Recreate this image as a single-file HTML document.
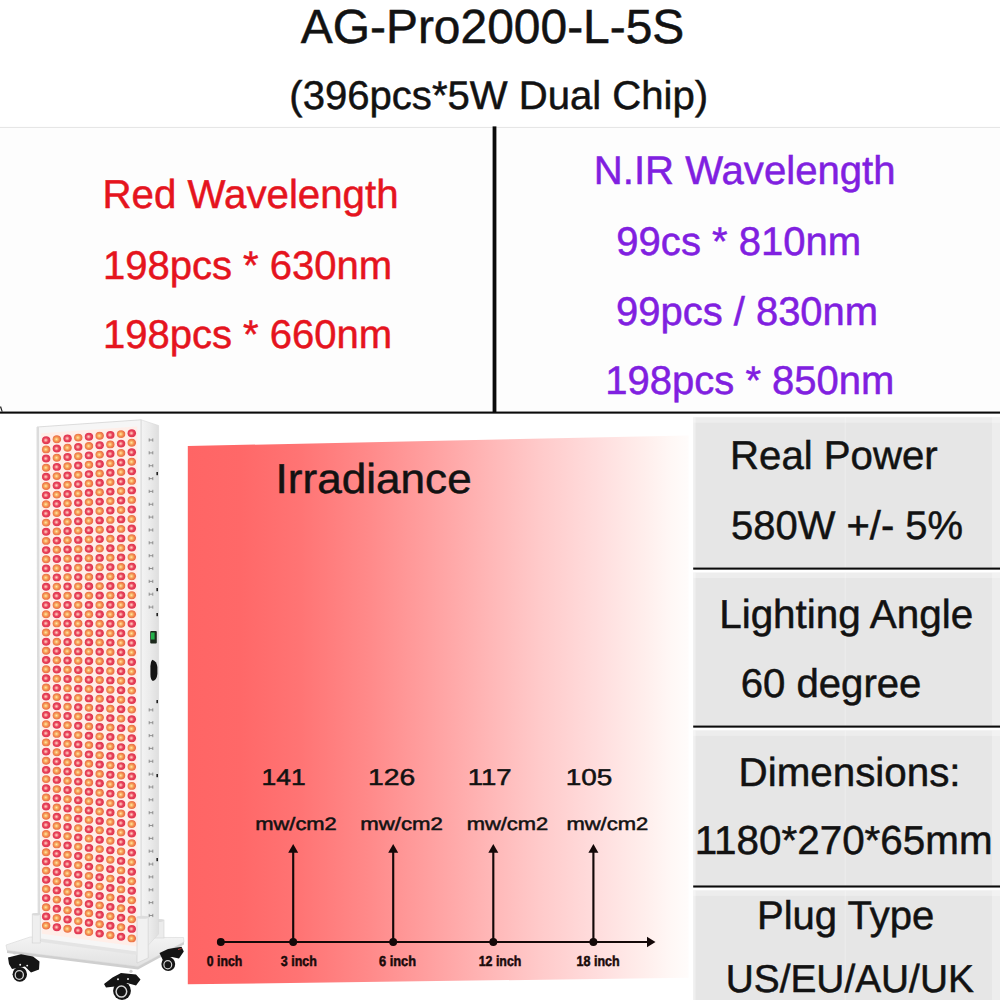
<!DOCTYPE html>
<html lang="en"><head><meta charset="utf-8"><title>AG-Pro2000-L-5S</title>
<style>
html,body{margin:0;padding:0;background:#fff;}
body{width:1000px;height:1000px;position:relative;overflow:hidden;font-family:"Liberation Sans",sans-serif;}
.abs{position:absolute;}
.t{position:absolute;white-space:nowrap;line-height:1;letter-spacing:0;}
.ln{position:absolute;background:#0c0c0c;}
.box{position:absolute;background:#e6e6e6;}
</style></head><body>
<!-- table area tint + borders, irradiance panel, spec boxes -->
<svg class="abs" style="left:0;top:0" width="1000" height="1000" viewBox="0 0 1000 1000">
<defs><linearGradient id="irrg" gradientUnits="userSpaceOnUse" x1="188" y1="0" x2="689" y2="0">
<stop offset="0.0000" stop-color="#ff6565"/><stop offset="0.1038" stop-color="#ff6868"/><stop offset="0.2236" stop-color="#ff7474"/><stop offset="0.3633" stop-color="#ff8a8a"/><stop offset="0.4830" stop-color="#ffa0a0"/><stop offset="0.5928" stop-color="#ffb5b5"/><stop offset="0.7026" stop-color="#ffcaca"/><stop offset="0.8224" stop-color="#ffdede"/><stop offset="0.9122" stop-color="#ffeeec"/><stop offset="0.9661" stop-color="#fff8f6"/><stop offset="1.0000" stop-color="#fffcfb"/>
</linearGradient></defs>
<rect x="0" y="127.8" width="1000" height="284" fill="#fdfdfd"/>
<rect x="0" y="126.9" width="1000" height="1" fill="#e4e4e4"/>
<rect x="492.6" y="126.4" width="3.8" height="286.6" fill="#0b0b0b"/>
<rect x="0" y="411.55" width="1000" height="2.1" fill="#0b0b0b"/>
<path d="M0.5,406.5 L2.2,411.6" stroke="#222" stroke-width="1.2"/>
<polygon points="187.8,446 688.6,435.6 688.6,977.8 187.8,984.3" fill="url(#irrg)"/>
<rect x="693.2" y="417.3" width="306.8" height="150.3" fill="#e6e6e6"/><rect x="693.2" y="417.3" width="306.8" height="5.5" fill="#fff" opacity=".28"/><rect x="693.2" y="417.3" width="2.4" height="150.3" fill="#fff" opacity=".38"/><rect x="992" y="417.3" width="8" height="150.3" fill="#fff" opacity=".30"/><rect x="844.6" y="417.3" width="1.4" height="150.3" fill="#fff" opacity=".22"/><rect x="693.2" y="572.6" width="306.8" height="153.0" fill="#e6e6e6"/><rect x="693.2" y="572.6" width="306.8" height="5.5" fill="#fff" opacity=".28"/><rect x="693.2" y="572.6" width="2.4" height="153.0" fill="#fff" opacity=".38"/><rect x="992" y="572.6" width="8" height="153.0" fill="#fff" opacity=".30"/><rect x="844.6" y="572.6" width="1.4" height="153.0" fill="#fff" opacity=".22"/><rect x="693.2" y="730.4" width="306.8" height="155.2" fill="#e6e6e6"/><rect x="693.2" y="730.4" width="306.8" height="5.5" fill="#fff" opacity=".28"/><rect x="693.2" y="730.4" width="2.4" height="155.2" fill="#fff" opacity=".38"/><rect x="992" y="730.4" width="8" height="155.2" fill="#fff" opacity=".30"/><rect x="844.6" y="730.4" width="1.4" height="155.2" fill="#fff" opacity=".22"/><rect x="693.2" y="890.4" width="306.8" height="109.6" fill="#e6e6e6"/><rect x="693.2" y="890.4" width="306.8" height="5.5" fill="#fff" opacity=".28"/><rect x="693.2" y="890.4" width="2.4" height="109.6" fill="#fff" opacity=".38"/><rect x="992" y="890.4" width="8" height="109.6" fill="#fff" opacity=".30"/><rect x="844.6" y="890.4" width="1.4" height="109.6" fill="#fff" opacity=".22"/><rect x="693.2" y="567.55" width="306.8" height="2.1" fill="#0b0b0b"/><rect x="693.2" y="725.55" width="306.8" height="2.1" fill="#0b0b0b"/><rect x="693.2" y="885.45" width="306.8" height="2.1" fill="#0b0b0b"/>
</svg>
<svg class="abs" style="left:0;top:0" width="1000" height="1000" viewBox="0 0 1000 1000"><defs><radialGradient id="gr" cx="45%" cy="50%" r="58%"><stop offset="0" stop-color="#ffd2c8"/><stop offset=".22" stop-color="#f78a8a"/><stop offset=".5" stop-color="#e4213c"/><stop offset=".85" stop-color="#d8143a"/><stop offset="1" stop-color="#f0607a"/></radialGradient><radialGradient id="go" cx="45%" cy="50%" r="58%"><stop offset="0" stop-color="#ffe9a8"/><stop offset=".25" stop-color="#fbb65a"/><stop offset=".55" stop-color="#f07a30"/><stop offset=".85" stop-color="#e8552c"/><stop offset="1" stop-color="#f59a70"/></radialGradient><linearGradient id="side" x1="0" x2="1"><stop offset="0" stop-color="#f4f4f4"/><stop offset=".5" stop-color="#ebebeb"/><stop offset="1" stop-color="#dedede"/></linearGradient><linearGradient id="plate" x1="0" x2="0" y1="0" y2="1"><stop offset="0" stop-color="#f3f3f3"/><stop offset="1" stop-color="#e2e2e2"/></linearGradient><ellipse id="r" rx="4.25" ry="3.95" fill="url(#gr)"/><ellipse id="o" rx="4.25" ry="3.95" fill="url(#go)"/></defs><polygon points="6,945 30,937 183.5,937.5 184,942 138,966.5 7,950.5" fill="url(#plate)" stroke="#d6d6d6" stroke-width=".6"/><polygon points="7,950.5 138,966.5 184,942 184,944.5 138,969.5 7,953" fill="#cfcfcf"/><rect x="151.5" y="920" width="12.5" height="18" fill="#ececec" stroke="#d2d2d2" stroke-width=".6"/><ellipse cx="157.7" cy="920.5" rx="6.2" ry="1.6" fill="#dcdcdc"/><polygon points="141,419.8 158.6,425.5 158.6,934 141,953" fill="url(#side)" stroke="#d9d9d9" stroke-width=".6"/><path d="M149.2,438.4v3.2M152.8,438.4v3.2M149.2,440.0h3.6" stroke="#7d7d7d" stroke-width=".8" fill="none"/><path d="M149.2,451.2v3.2M152.8,451.2v3.2M149.2,452.9h3.6" stroke="#7d7d7d" stroke-width=".8" fill="none"/><path d="M149.2,464.1v3.2M152.8,464.1v3.2M149.2,465.7h3.6" stroke="#7d7d7d" stroke-width=".8" fill="none"/><path d="M149.2,477.0v3.2M152.8,477.0v3.2M149.2,478.6h3.6" stroke="#7d7d7d" stroke-width=".8" fill="none"/><path d="M149.2,489.8v3.2M152.8,489.8v3.2M149.2,491.4h3.6" stroke="#7d7d7d" stroke-width=".8" fill="none"/><path d="M149.2,502.7v3.2M152.8,502.7v3.2M149.2,504.3h3.6" stroke="#7d7d7d" stroke-width=".8" fill="none"/><path d="M149.2,515.5v3.2M152.8,515.5v3.2M149.2,517.1h3.6" stroke="#7d7d7d" stroke-width=".8" fill="none"/><path d="M149.2,528.4v3.2M152.8,528.4v3.2M149.2,530.0h3.6" stroke="#7d7d7d" stroke-width=".8" fill="none"/><path d="M149.2,541.2v3.2M152.8,541.2v3.2M149.2,542.8h3.6" stroke="#7d7d7d" stroke-width=".8" fill="none"/><path d="M149.2,554.1v3.2M152.8,554.1v3.2M149.2,555.7h3.6" stroke="#7d7d7d" stroke-width=".8" fill="none"/><path d="M149.2,566.9v3.2M152.8,566.9v3.2M149.2,568.5h3.6" stroke="#7d7d7d" stroke-width=".8" fill="none"/><path d="M149.2,579.8v3.2M152.8,579.8v3.2M149.2,581.4h3.6" stroke="#7d7d7d" stroke-width=".8" fill="none"/><path d="M149.2,592.6v3.2M152.8,592.6v3.2M149.2,594.2h3.6" stroke="#7d7d7d" stroke-width=".8" fill="none"/><path d="M149.2,605.5v3.2M152.8,605.5v3.2M149.2,607.1h3.6" stroke="#7d7d7d" stroke-width=".8" fill="none"/><path d="M149.2,708.3v3.2M152.8,708.3v3.2M149.2,709.9h3.6" stroke="#7d7d7d" stroke-width=".8" fill="none"/><path d="M149.2,721.1v3.2M152.8,721.1v3.2M149.2,722.7h3.6" stroke="#7d7d7d" stroke-width=".8" fill="none"/><path d="M149.2,734.0v3.2M152.8,734.0v3.2M149.2,735.6h3.6" stroke="#7d7d7d" stroke-width=".8" fill="none"/><path d="M149.2,746.8v3.2M152.8,746.8v3.2M149.2,748.4h3.6" stroke="#7d7d7d" stroke-width=".8" fill="none"/><path d="M149.2,759.7v3.2M152.8,759.7v3.2M149.2,761.3h3.6" stroke="#7d7d7d" stroke-width=".8" fill="none"/><path d="M149.2,772.5v3.2M152.8,772.5v3.2M149.2,774.1h3.6" stroke="#7d7d7d" stroke-width=".8" fill="none"/><path d="M149.2,785.4v3.2M152.8,785.4v3.2M149.2,787.0h3.6" stroke="#7d7d7d" stroke-width=".8" fill="none"/><path d="M149.2,798.2v3.2M152.8,798.2v3.2M149.2,799.8h3.6" stroke="#7d7d7d" stroke-width=".8" fill="none"/><path d="M149.2,811.1v3.2M152.8,811.1v3.2M149.2,812.7h3.6" stroke="#7d7d7d" stroke-width=".8" fill="none"/><path d="M149.2,823.9v3.2M152.8,823.9v3.2M149.2,825.5h3.6" stroke="#7d7d7d" stroke-width=".8" fill="none"/><path d="M149.2,836.8v3.2M152.8,836.8v3.2M149.2,838.4h3.6" stroke="#7d7d7d" stroke-width=".8" fill="none"/><path d="M149.2,849.6v3.2M152.8,849.6v3.2M149.2,851.2h3.6" stroke="#7d7d7d" stroke-width=".8" fill="none"/><path d="M149.2,862.5v3.2M152.8,862.5v3.2M149.2,864.1h3.6" stroke="#7d7d7d" stroke-width=".8" fill="none"/><path d="M149.2,875.3v3.2M152.8,875.3v3.2M149.2,876.9h3.6" stroke="#7d7d7d" stroke-width=".8" fill="none"/><path d="M149.2,888.2v3.2M152.8,888.2v3.2M149.2,889.8h3.6" stroke="#7d7d7d" stroke-width=".8" fill="none"/><path d="M149.2,901.0v3.2M152.8,901.0v3.2M149.2,902.6h3.6" stroke="#7d7d7d" stroke-width=".8" fill="none"/><path d="M149.2,913.9v3.2M152.8,913.9v3.2M149.2,915.5h3.6" stroke="#7d7d7d" stroke-width=".8" fill="none"/><rect x="156.4" y="472" width="1.6" height="3.2" fill="#222"/><rect x="156.4" y="588" width="1.6" height="3.2" fill="#222"/><rect x="156.4" y="613" width="1.6" height="3.2" fill="#222"/><rect x="156.4" y="700" width="1.6" height="3.2" fill="#222"/><rect x="156.4" y="774" width="1.6" height="3.2" fill="#222"/><rect x="156.4" y="858" width="1.6" height="3.2" fill="#222"/><rect x="150.2" y="631" width="6.6" height="12.5" rx="1" fill="#1d2a1d"/><rect x="151" y="632.5" width="3.6" height="7" fill="#22b24a"/><path d="M152.2,659.8 Q156.8,661 157.4,667 L157.4,674 Q156.8,680 152.8,681 Q150.4,679.5 150.4,674 L150.4,666 Q150.6,661.5 152.2,659.8 Z" fill="#151515"/><polygon points="37,427 141,419.8 141,953 38.2,940" fill="#f6f6f6" stroke="#d4d4d4" stroke-width=".8"/><polygon points="41.2,433.3 137.2,426.4 137.2,946.5 41.8,933.8" fill="#ffeee8"/><g opacity=".84"><use href="#r" x="46.2" y="440.2"/><use href="#o" x="56.9" y="439.3"/><use href="#r" x="67.6" y="438.4"/><use href="#o" x="78.3" y="437.6"/><use href="#r" x="89.0" y="436.7"/><use href="#o" x="99.7" y="435.8"/><use href="#r" x="110.4" y="434.9"/><use href="#o" x="121.1" y="434.1"/><use href="#r" x="131.8" y="433.2"/><use href="#o" x="46.2" y="449.4"/><use href="#r" x="56.9" y="448.5"/><use href="#o" x="67.6" y="447.7"/><use href="#r" x="78.3" y="446.9"/><use href="#o" x="89.0" y="446.0"/><use href="#r" x="99.7" y="445.2"/><use href="#o" x="110.4" y="444.4"/><use href="#r" x="121.1" y="443.6"/><use href="#o" x="131.8" y="442.7"/><use href="#r" x="46.2" y="458.5"/><use href="#o" x="56.9" y="457.7"/><use href="#r" x="67.6" y="457.0"/><use href="#o" x="78.3" y="456.2"/><use href="#r" x="89.0" y="455.4"/><use href="#o" x="99.7" y="454.6"/><use href="#r" x="110.4" y="453.8"/><use href="#o" x="121.1" y="453.0"/><use href="#r" x="131.8" y="452.3"/><use href="#o" x="46.2" y="467.7"/><use href="#r" x="56.9" y="466.9"/><use href="#o" x="67.6" y="466.2"/><use href="#r" x="78.3" y="465.5"/><use href="#o" x="89.0" y="464.7"/><use href="#r" x="99.7" y="464.0"/><use href="#o" x="110.4" y="463.3"/><use href="#r" x="121.1" y="462.5"/><use href="#o" x="131.8" y="461.8"/><use href="#r" x="46.2" y="476.8"/><use href="#o" x="56.9" y="476.1"/><use href="#r" x="67.6" y="475.5"/><use href="#o" x="78.3" y="474.8"/><use href="#r" x="89.0" y="474.1"/><use href="#o" x="99.7" y="473.4"/><use href="#r" x="110.4" y="472.7"/><use href="#o" x="121.1" y="472.0"/><use href="#r" x="131.8" y="471.3"/><use href="#o" x="46.2" y="486.0"/><use href="#r" x="56.9" y="485.4"/><use href="#o" x="67.6" y="484.7"/><use href="#r" x="78.3" y="484.1"/><use href="#o" x="89.0" y="483.4"/><use href="#r" x="99.7" y="482.8"/><use href="#o" x="110.4" y="482.1"/><use href="#r" x="121.1" y="481.5"/><use href="#o" x="131.8" y="480.9"/><use href="#r" x="46.2" y="495.2"/><use href="#o" x="56.9" y="494.6"/><use href="#r" x="67.6" y="494.0"/><use href="#o" x="78.3" y="493.4"/><use href="#r" x="89.0" y="492.8"/><use href="#o" x="99.7" y="492.2"/><use href="#r" x="110.4" y="491.6"/><use href="#o" x="121.1" y="491.0"/><use href="#r" x="131.8" y="490.4"/><use href="#o" x="46.2" y="504.3"/><use href="#r" x="56.9" y="503.8"/><use href="#o" x="67.6" y="503.2"/><use href="#r" x="78.3" y="502.7"/><use href="#o" x="89.0" y="502.1"/><use href="#r" x="99.7" y="501.6"/><use href="#o" x="110.4" y="501.0"/><use href="#r" x="121.1" y="500.5"/><use href="#o" x="131.8" y="499.9"/><use href="#r" x="46.2" y="513.5"/><use href="#o" x="56.9" y="513.0"/><use href="#r" x="67.6" y="512.5"/><use href="#o" x="78.3" y="512.0"/><use href="#r" x="89.0" y="511.5"/><use href="#o" x="99.7" y="511.0"/><use href="#r" x="110.4" y="510.5"/><use href="#o" x="121.1" y="510.0"/><use href="#r" x="131.8" y="509.5"/><use href="#o" x="46.2" y="522.6"/><use href="#r" x="56.9" y="522.2"/><use href="#o" x="67.6" y="521.7"/><use href="#r" x="78.3" y="521.3"/><use href="#o" x="89.0" y="520.8"/><use href="#r" x="99.7" y="520.4"/><use href="#o" x="110.4" y="519.9"/><use href="#r" x="121.1" y="519.4"/><use href="#o" x="131.8" y="519.0"/><use href="#r" x="46.2" y="531.8"/><use href="#o" x="56.9" y="531.4"/><use href="#r" x="67.6" y="531.0"/><use href="#o" x="78.3" y="530.6"/><use href="#r" x="89.0" y="530.2"/><use href="#o" x="99.7" y="529.7"/><use href="#r" x="110.4" y="529.3"/><use href="#o" x="121.1" y="528.9"/><use href="#r" x="131.8" y="528.5"/><use href="#o" x="46.2" y="540.9"/><use href="#r" x="56.9" y="540.6"/><use href="#o" x="67.6" y="540.2"/><use href="#r" x="78.3" y="539.9"/><use href="#o" x="89.0" y="539.5"/><use href="#r" x="99.7" y="539.1"/><use href="#o" x="110.4" y="538.8"/><use href="#r" x="121.1" y="538.4"/><use href="#o" x="131.8" y="538.1"/><use href="#r" x="46.2" y="550.1"/><use href="#o" x="56.9" y="549.8"/><use href="#r" x="67.6" y="549.5"/><use href="#o" x="78.3" y="549.2"/><use href="#r" x="89.0" y="548.8"/><use href="#o" x="99.7" y="548.5"/><use href="#r" x="110.4" y="548.2"/><use href="#o" x="121.1" y="547.9"/><use href="#r" x="131.8" y="547.6"/><use href="#o" x="46.2" y="559.3"/><use href="#r" x="56.9" y="559.0"/><use href="#o" x="67.6" y="558.7"/><use href="#r" x="78.3" y="558.5"/><use href="#o" x="89.0" y="558.2"/><use href="#r" x="99.7" y="557.9"/><use href="#o" x="110.4" y="557.7"/><use href="#r" x="121.1" y="557.4"/><use href="#o" x="131.8" y="557.1"/><use href="#r" x="46.2" y="568.4"/><use href="#o" x="56.9" y="568.2"/><use href="#r" x="67.6" y="568.0"/><use href="#o" x="78.3" y="567.8"/><use href="#r" x="89.0" y="567.5"/><use href="#o" x="99.7" y="567.3"/><use href="#r" x="110.4" y="567.1"/><use href="#o" x="121.1" y="566.9"/><use href="#r" x="131.8" y="566.6"/><use href="#o" x="46.2" y="577.6"/><use href="#r" x="56.9" y="577.4"/><use href="#o" x="67.6" y="577.2"/><use href="#r" x="78.3" y="577.1"/><use href="#o" x="89.0" y="576.9"/><use href="#r" x="99.7" y="576.7"/><use href="#o" x="110.4" y="576.5"/><use href="#r" x="121.1" y="576.4"/><use href="#o" x="131.8" y="576.2"/><use href="#r" x="46.2" y="586.7"/><use href="#o" x="56.9" y="586.6"/><use href="#r" x="67.6" y="586.5"/><use href="#o" x="78.3" y="586.4"/><use href="#r" x="89.0" y="586.2"/><use href="#o" x="99.7" y="586.1"/><use href="#r" x="110.4" y="586.0"/><use href="#o" x="121.1" y="585.8"/><use href="#r" x="131.8" y="585.7"/><use href="#o" x="46.2" y="595.9"/><use href="#r" x="56.9" y="595.8"/><use href="#o" x="67.6" y="595.7"/><use href="#r" x="78.3" y="595.7"/><use href="#o" x="89.0" y="595.6"/><use href="#r" x="99.7" y="595.5"/><use href="#o" x="110.4" y="595.4"/><use href="#r" x="121.1" y="595.3"/><use href="#o" x="131.8" y="595.2"/><use href="#r" x="46.2" y="605.1"/><use href="#o" x="56.9" y="605.0"/><use href="#r" x="67.6" y="605.0"/><use href="#o" x="78.3" y="604.9"/><use href="#r" x="89.0" y="604.9"/><use href="#o" x="99.7" y="604.9"/><use href="#r" x="110.4" y="604.8"/><use href="#o" x="121.1" y="604.8"/><use href="#r" x="131.8" y="604.8"/><use href="#o" x="46.2" y="614.2"/><use href="#r" x="56.9" y="614.2"/><use href="#o" x="67.6" y="614.2"/><use href="#r" x="78.3" y="614.2"/><use href="#o" x="89.0" y="614.3"/><use href="#r" x="99.7" y="614.3"/><use href="#o" x="110.4" y="614.3"/><use href="#r" x="121.1" y="614.3"/><use href="#o" x="131.8" y="614.3"/><use href="#r" x="46.2" y="623.4"/><use href="#o" x="56.9" y="623.4"/><use href="#r" x="67.6" y="623.5"/><use href="#o" x="78.3" y="623.5"/><use href="#r" x="89.0" y="623.6"/><use href="#o" x="99.7" y="623.7"/><use href="#r" x="110.4" y="623.7"/><use href="#o" x="121.1" y="623.8"/><use href="#r" x="131.8" y="623.8"/><use href="#o" x="46.2" y="632.5"/><use href="#r" x="56.9" y="632.6"/><use href="#o" x="67.6" y="632.7"/><use href="#r" x="78.3" y="632.8"/><use href="#o" x="89.0" y="633.0"/><use href="#r" x="99.7" y="633.1"/><use href="#o" x="110.4" y="633.2"/><use href="#r" x="121.1" y="633.3"/><use href="#o" x="131.8" y="633.4"/><use href="#r" x="46.2" y="641.7"/><use href="#o" x="56.9" y="641.8"/><use href="#r" x="67.6" y="642.0"/><use href="#o" x="78.3" y="642.1"/><use href="#r" x="89.0" y="642.3"/><use href="#o" x="99.7" y="642.4"/><use href="#r" x="110.4" y="642.6"/><use href="#o" x="121.1" y="642.8"/><use href="#r" x="131.8" y="642.9"/><use href="#o" x="46.2" y="650.8"/><use href="#r" x="56.9" y="651.0"/><use href="#o" x="67.6" y="651.2"/><use href="#r" x="78.3" y="651.4"/><use href="#o" x="89.0" y="651.6"/><use href="#r" x="99.7" y="651.8"/><use href="#o" x="110.4" y="652.0"/><use href="#r" x="121.1" y="652.2"/><use href="#o" x="131.8" y="652.4"/><use href="#r" x="46.2" y="660.0"/><use href="#o" x="56.9" y="660.2"/><use href="#r" x="67.6" y="660.5"/><use href="#o" x="78.3" y="660.7"/><use href="#r" x="89.0" y="661.0"/><use href="#o" x="99.7" y="661.2"/><use href="#r" x="110.4" y="661.5"/><use href="#o" x="121.1" y="661.7"/><use href="#r" x="131.8" y="662.0"/><use href="#o" x="46.2" y="669.2"/><use href="#r" x="56.9" y="669.5"/><use href="#o" x="67.6" y="669.7"/><use href="#r" x="78.3" y="670.0"/><use href="#o" x="89.0" y="670.3"/><use href="#r" x="99.7" y="670.6"/><use href="#o" x="110.4" y="670.9"/><use href="#r" x="121.1" y="671.2"/><use href="#o" x="131.8" y="671.5"/><use href="#r" x="46.2" y="678.3"/><use href="#o" x="56.9" y="678.7"/><use href="#r" x="67.6" y="679.0"/><use href="#o" x="78.3" y="679.3"/><use href="#r" x="89.0" y="679.7"/><use href="#o" x="99.7" y="680.0"/><use href="#r" x="110.4" y="680.4"/><use href="#o" x="121.1" y="680.7"/><use href="#r" x="131.8" y="681.0"/><use href="#o" x="46.2" y="687.5"/><use href="#r" x="56.9" y="687.9"/><use href="#o" x="67.6" y="688.3"/><use href="#r" x="78.3" y="688.6"/><use href="#o" x="89.0" y="689.0"/><use href="#r" x="99.7" y="689.4"/><use href="#o" x="110.4" y="689.8"/><use href="#r" x="121.1" y="690.2"/><use href="#o" x="131.8" y="690.6"/><use href="#r" x="46.2" y="696.6"/><use href="#o" x="56.9" y="697.1"/><use href="#r" x="67.6" y="697.5"/><use href="#o" x="78.3" y="697.9"/><use href="#r" x="89.0" y="698.4"/><use href="#o" x="99.7" y="698.8"/><use href="#r" x="110.4" y="699.2"/><use href="#o" x="121.1" y="699.7"/><use href="#r" x="131.8" y="700.1"/><use href="#o" x="46.2" y="705.8"/><use href="#r" x="56.9" y="706.3"/><use href="#o" x="67.6" y="706.8"/><use href="#r" x="78.3" y="707.2"/><use href="#o" x="89.0" y="707.7"/><use href="#r" x="99.7" y="708.2"/><use href="#o" x="110.4" y="708.7"/><use href="#r" x="121.1" y="709.2"/><use href="#o" x="131.8" y="709.6"/><use href="#r" x="46.2" y="715.0"/><use href="#o" x="56.9" y="715.5"/><use href="#r" x="67.6" y="716.0"/><use href="#o" x="78.3" y="716.5"/><use href="#r" x="89.0" y="717.1"/><use href="#o" x="99.7" y="717.6"/><use href="#r" x="110.4" y="718.1"/><use href="#o" x="121.1" y="718.6"/><use href="#r" x="131.8" y="719.2"/><use href="#o" x="46.2" y="724.1"/><use href="#r" x="56.9" y="724.7"/><use href="#o" x="67.6" y="725.3"/><use href="#r" x="78.3" y="725.8"/><use href="#o" x="89.0" y="726.4"/><use href="#r" x="99.7" y="727.0"/><use href="#o" x="110.4" y="727.5"/><use href="#r" x="121.1" y="728.1"/><use href="#o" x="131.8" y="728.7"/><use href="#r" x="46.2" y="733.3"/><use href="#o" x="56.9" y="733.9"/><use href="#r" x="67.6" y="734.5"/><use href="#o" x="78.3" y="735.1"/><use href="#r" x="89.0" y="735.7"/><use href="#o" x="99.7" y="736.4"/><use href="#r" x="110.4" y="737.0"/><use href="#o" x="121.1" y="737.6"/><use href="#r" x="131.8" y="738.2"/><use href="#o" x="46.2" y="742.4"/><use href="#r" x="56.9" y="743.1"/><use href="#o" x="67.6" y="743.8"/><use href="#r" x="78.3" y="744.4"/><use href="#o" x="89.0" y="745.1"/><use href="#r" x="99.7" y="745.8"/><use href="#o" x="110.4" y="746.4"/><use href="#r" x="121.1" y="747.1"/><use href="#o" x="131.8" y="747.8"/><use href="#r" x="46.2" y="751.6"/><use href="#o" x="56.9" y="752.3"/><use href="#r" x="67.6" y="753.0"/><use href="#o" x="78.3" y="753.7"/><use href="#r" x="89.0" y="754.4"/><use href="#o" x="99.7" y="755.2"/><use href="#r" x="110.4" y="755.9"/><use href="#o" x="121.1" y="756.6"/><use href="#r" x="131.8" y="757.3"/><use href="#o" x="46.2" y="760.7"/><use href="#r" x="56.9" y="761.5"/><use href="#o" x="67.6" y="762.3"/><use href="#r" x="78.3" y="763.0"/><use href="#o" x="89.0" y="763.8"/><use href="#r" x="99.7" y="764.5"/><use href="#o" x="110.4" y="765.3"/><use href="#r" x="121.1" y="766.1"/><use href="#o" x="131.8" y="766.8"/><use href="#r" x="46.2" y="769.9"/><use href="#o" x="56.9" y="770.7"/><use href="#r" x="67.6" y="771.5"/><use href="#o" x="78.3" y="772.3"/><use href="#r" x="89.0" y="773.1"/><use href="#o" x="99.7" y="773.9"/><use href="#r" x="110.4" y="774.7"/><use href="#o" x="121.1" y="775.5"/><use href="#r" x="131.8" y="776.4"/><use href="#o" x="46.2" y="779.1"/><use href="#r" x="56.9" y="779.9"/><use href="#o" x="67.6" y="780.8"/><use href="#r" x="78.3" y="781.6"/><use href="#o" x="89.0" y="782.5"/><use href="#r" x="99.7" y="783.3"/><use href="#o" x="110.4" y="784.2"/><use href="#r" x="121.1" y="785.0"/><use href="#o" x="131.8" y="785.9"/><use href="#r" x="46.2" y="788.2"/><use href="#o" x="56.9" y="789.1"/><use href="#r" x="67.6" y="790.0"/><use href="#o" x="78.3" y="790.9"/><use href="#r" x="89.0" y="791.8"/><use href="#o" x="99.7" y="792.7"/><use href="#r" x="110.4" y="793.6"/><use href="#o" x="121.1" y="794.5"/><use href="#r" x="131.8" y="795.4"/><use href="#o" x="46.2" y="797.4"/><use href="#r" x="56.9" y="798.3"/><use href="#o" x="67.6" y="799.3"/><use href="#r" x="78.3" y="800.2"/><use href="#o" x="89.0" y="801.2"/><use href="#r" x="99.7" y="802.1"/><use href="#o" x="110.4" y="803.1"/><use href="#r" x="121.1" y="804.0"/><use href="#o" x="131.8" y="805.0"/><use href="#r" x="46.2" y="806.5"/><use href="#o" x="56.9" y="807.5"/><use href="#r" x="67.6" y="808.5"/><use href="#o" x="78.3" y="809.5"/><use href="#r" x="89.0" y="810.5"/><use href="#o" x="99.7" y="811.5"/><use href="#r" x="110.4" y="812.5"/><use href="#o" x="121.1" y="813.5"/><use href="#r" x="131.8" y="814.5"/><use href="#o" x="46.2" y="815.7"/><use href="#r" x="56.9" y="816.7"/><use href="#o" x="67.6" y="817.8"/><use href="#r" x="78.3" y="818.8"/><use href="#o" x="89.0" y="819.9"/><use href="#r" x="99.7" y="820.9"/><use href="#o" x="110.4" y="821.9"/><use href="#r" x="121.1" y="823.0"/><use href="#o" x="131.8" y="824.0"/><use href="#r" x="46.2" y="824.9"/><use href="#o" x="56.9" y="825.9"/><use href="#r" x="67.6" y="827.0"/><use href="#o" x="78.3" y="828.1"/><use href="#r" x="89.0" y="829.2"/><use href="#o" x="99.7" y="830.3"/><use href="#r" x="110.4" y="831.4"/><use href="#o" x="121.1" y="832.5"/><use href="#r" x="131.8" y="833.5"/><use href="#o" x="46.2" y="834.0"/><use href="#r" x="56.9" y="835.1"/><use href="#o" x="67.6" y="836.3"/><use href="#r" x="78.3" y="837.4"/><use href="#o" x="89.0" y="838.5"/><use href="#r" x="99.7" y="839.7"/><use href="#o" x="110.4" y="840.8"/><use href="#r" x="121.1" y="841.9"/><use href="#o" x="131.8" y="843.1"/><use href="#r" x="46.2" y="843.2"/><use href="#o" x="56.9" y="844.4"/><use href="#r" x="67.6" y="845.5"/><use href="#o" x="78.3" y="846.7"/><use href="#r" x="89.0" y="847.9"/><use href="#o" x="99.7" y="849.1"/><use href="#r" x="110.4" y="850.3"/><use href="#o" x="121.1" y="851.4"/><use href="#r" x="131.8" y="852.6"/><use href="#o" x="46.2" y="852.3"/><use href="#r" x="56.9" y="853.6"/><use href="#o" x="67.6" y="854.8"/><use href="#r" x="78.3" y="856.0"/><use href="#o" x="89.0" y="857.2"/><use href="#r" x="99.7" y="858.5"/><use href="#o" x="110.4" y="859.7"/><use href="#r" x="121.1" y="860.9"/><use href="#o" x="131.8" y="862.1"/><use href="#r" x="46.2" y="861.5"/><use href="#o" x="56.9" y="862.8"/><use href="#r" x="67.6" y="864.0"/><use href="#o" x="78.3" y="865.3"/><use href="#r" x="89.0" y="866.6"/><use href="#o" x="99.7" y="867.9"/><use href="#r" x="110.4" y="869.1"/><use href="#o" x="121.1" y="870.4"/><use href="#r" x="131.8" y="871.7"/><use href="#o" x="46.2" y="870.6"/><use href="#r" x="56.9" y="872.0"/><use href="#o" x="67.6" y="873.3"/><use href="#r" x="78.3" y="874.6"/><use href="#o" x="89.0" y="875.9"/><use href="#r" x="99.7" y="877.2"/><use href="#o" x="110.4" y="878.6"/><use href="#r" x="121.1" y="879.9"/><use href="#o" x="131.8" y="881.2"/><use href="#r" x="46.2" y="879.8"/><use href="#o" x="56.9" y="881.2"/><use href="#r" x="67.6" y="882.5"/><use href="#o" x="78.3" y="883.9"/><use href="#r" x="89.0" y="885.3"/><use href="#o" x="99.7" y="886.6"/><use href="#r" x="110.4" y="888.0"/><use href="#o" x="121.1" y="889.4"/><use href="#r" x="131.8" y="890.7"/><use href="#o" x="46.2" y="889.0"/><use href="#r" x="56.9" y="890.4"/><use href="#o" x="67.6" y="891.8"/><use href="#r" x="78.3" y="893.2"/><use href="#o" x="89.0" y="894.6"/><use href="#r" x="99.7" y="896.0"/><use href="#o" x="110.4" y="897.4"/><use href="#r" x="121.1" y="898.9"/><use href="#o" x="131.8" y="900.3"/><use href="#r" x="46.2" y="898.1"/><use href="#o" x="56.9" y="899.6"/><use href="#r" x="67.6" y="901.0"/><use href="#o" x="78.3" y="902.5"/><use href="#r" x="89.0" y="904.0"/><use href="#o" x="99.7" y="905.4"/><use href="#r" x="110.4" y="906.9"/><use href="#o" x="121.1" y="908.3"/><use href="#r" x="131.8" y="909.8"/><use href="#o" x="46.2" y="907.3"/><use href="#r" x="56.9" y="908.8"/><use href="#o" x="67.6" y="910.3"/><use href="#r" x="78.3" y="911.8"/><use href="#o" x="89.0" y="913.3"/><use href="#r" x="99.7" y="914.8"/><use href="#o" x="110.4" y="916.3"/><use href="#r" x="121.1" y="917.8"/><use href="#o" x="131.8" y="919.3"/><use href="#r" x="46.2" y="916.4"/><use href="#o" x="56.9" y="918.0"/><use href="#r" x="67.6" y="919.5"/><use href="#o" x="78.3" y="921.1"/><use href="#r" x="89.0" y="922.7"/><use href="#o" x="99.7" y="924.2"/><use href="#r" x="110.4" y="925.8"/><use href="#o" x="121.1" y="927.3"/><use href="#r" x="131.8" y="928.9"/><use href="#o" x="46.2" y="925.6"/><use href="#r" x="56.9" y="927.2"/><use href="#o" x="67.6" y="928.8"/><use href="#r" x="78.3" y="930.4"/><use href="#o" x="89.0" y="932.0"/><use href="#r" x="99.7" y="933.6"/><use href="#o" x="110.4" y="935.2"/><use href="#r" x="121.1" y="936.8"/><use href="#o" x="131.8" y="938.4"/></g><polygon points="37,427 39,426.9 40.2,940.2 38.2,940" fill="#dcdcdc"/><rect x="32.2" y="914" width="8" height="29" fill="#efefef" stroke="#d0d0d0" stroke-width=".6"/><ellipse cx="36.2" cy="914.3" rx="4" ry="1.3" fill="#dadada"/><polygon points="137,917 148.2,917 148.2,958 137,963" fill="#f1f1f1" stroke="#cfcfcf" stroke-width=".6"/><ellipse cx="142.6" cy="917.2" rx="5.6" ry="1.5" fill="#dcdcdc"/><polygon points="41,938.5 137,951.5 137,955 41,942" fill="#e4e4e4"/><circle cx="14.5" cy="953" r="1.5" fill="#cfcfcf"/><polygon points="8,957.5 21,954.3 33,956.5 39.5,961.5 39,969.5 31,972.5 25,966.5 12,969 9,964" fill="#151515"/><ellipse cx="19.8" cy="974.3" rx="7.2" ry="7.4" fill="#151515"/><ellipse cx="19.3" cy="975" rx="4.1" ry="4.3" fill="none" stroke="#d4d4d4" stroke-width="1.3"/><circle cx="20.2" cy="964.8" r=".95" fill="#f2f2f2"/><circle cx="27.2" cy="965.6" r=".95" fill="#f2f2f2"/><circle cx="131" cy="971.3" r="1.6" fill="#cfcfcf"/><polygon points="104,984 112.5,977.5 121,973 136,974.5 140.5,979.5 136,985.5 127,983 115,986.5 106,987.5" fill="#151515"/><ellipse cx="122" cy="990.8" rx="8.9" ry="9.1" fill="#151515"/><ellipse cx="121.4" cy="991.6" rx="5.3" ry="5.5" fill="none" stroke="#d4d4d4" stroke-width="1.5"/><circle cx="118" cy="979.3" r=".95" fill="#f2f2f2"/><circle cx="128" cy="979" r=".95" fill="#f2f2f2"/><polygon points="159.5,953 168,949 181.5,946.8 183.8,951.5 179,958.5 172,957 163,960.5" fill="#151515"/><ellipse cx="168.3" cy="964" rx="6.9" ry="7.1" fill="#151515"/><ellipse cx="167.8" cy="964.7" rx="3.9" ry="4.1" fill="none" stroke="#d4d4d4" stroke-width="1.2"/><path d="M178,949.5 l3.5,-1" stroke="#c04040" stroke-width="1"/></svg>
<svg class="abs" style="left:0;top:0" width="1000" height="1000" viewBox="0 0 1000 1000"><line x1="220.8" y1="942" x2="648" y2="942" stroke="#140808" stroke-width="2.15"/><polygon points="647,936.8 647,947.2 655.5,942" fill="#140808"/><line x1="293.2" y1="942" x2="293.2" y2="850" stroke="#140808" stroke-width="2.15"/><polygon points="288.2,852.8 298.2,852.8 293.2,844" fill="#140808"/><line x1="393.2" y1="942" x2="393.2" y2="850" stroke="#140808" stroke-width="2.15"/><polygon points="388.2,852.8 398.2,852.8 393.2,844" fill="#140808"/><line x1="493.3" y1="942" x2="493.3" y2="850" stroke="#140808" stroke-width="2.15"/><polygon points="488.3,852.8 498.3,852.8 493.3,844" fill="#140808"/><line x1="593.4" y1="942" x2="593.4" y2="850" stroke="#140808" stroke-width="2.15"/><polygon points="588.4,852.8 598.4,852.8 593.4,844" fill="#140808"/><circle cx="220.8" cy="942" r="3.95" fill="#140808"/><circle cx="293.2" cy="942" r="3.95" fill="#140808"/><circle cx="393.2" cy="942" r="3.95" fill="#140808"/><circle cx="493.3" cy="942" r="3.95" fill="#140808"/><circle cx="593.4" cy="942" r="3.95" fill="#140808"/></svg>
<svg class="abs" style="left:0;top:0" width="1000" height="1000" viewBox="0 0 1000 1000" font-family="Liberation Sans, sans-serif" text-rendering="geometricPrecision">
<text x="300.76" y="42.90" font-size="47.93" fill="#121212" stroke="#121212" stroke-width="0.5">AG-Pro2000-L-5S</text>
<text x="289.30" y="109.20" font-size="40.10" fill="#121212" stroke="#121212" stroke-width="0.5">(396pcs*5W Dual Chip)</text>
<text x="102.55" y="207.80" font-size="40.24" fill="#e5141e" stroke="#e5141e" stroke-width="0.5">Red Wavelength</text>
<text x="102.95" y="279.00" font-size="40.03" fill="#e5141e" stroke="#e5141e" stroke-width="0.5">198pcs * 630nm</text>
<text x="102.95" y="348.00" font-size="40.03" fill="#e5141e" stroke="#e5141e" stroke-width="0.5">198pcs * 660nm</text>
<text x="593.77" y="183.60" font-size="40.13" fill="#8020e0" stroke="#8020e0" stroke-width="0.5">N.IR Wavelength</text>
<text x="616.32" y="254.50" font-size="40.06" fill="#8020e0" stroke="#8020e0" stroke-width="0.5">99cs * 810nm</text>
<text x="616.02" y="325.00" font-size="39.96" fill="#8020e0" stroke="#8020e0" stroke-width="0.5">99pcs / 830nm</text>
<text x="605.35" y="393.50" font-size="40.00" fill="#8020e0" stroke="#8020e0" stroke-width="0.5">198pcs * 850nm</text>
<text x="730.05" y="469.20" font-size="40.18" fill="#121212" stroke="#121212" stroke-width="0.5">Real Power</text>
<text x="731.07" y="538.50" font-size="39.95" fill="#121212" stroke="#121212" stroke-width="0.5">580W +/- 5%</text>
<text x="719.16" y="627.50" font-size="40.45" fill="#121212" stroke="#121212" stroke-width="0.5">Lighting Angle</text>
<text x="740.69" y="697.00" font-size="40.14" fill="#121212" stroke="#121212" stroke-width="0.5">60 degree</text>
<text x="738.52" y="785.60" font-size="40.36" fill="#121212" stroke="#121212" stroke-width="0.5">Dimensions:</text>
<text x="694.64" y="854.30" font-size="40.40" fill="#121212" stroke="#121212" stroke-width="0.5">1180*270*65mm</text>
<text x="756.93" y="929.00" font-size="40.06" fill="#121212" stroke="#121212" stroke-width="0.5">Plug Type</text>
<text x="725.72" y="992.00" font-size="38.85" fill="#121212" stroke="#121212" stroke-width="0.5">US/EU/AU/UK</text>
<text transform="translate(275.53,493.40) scale(1.0580,1)" font-size="41.70" fill="#121212" stroke="#121212" stroke-width="0.5">Irradiance</text>
<text transform="translate(261.52,785.00) scale(1.1480,1)" font-size="23.00" fill="#121212" stroke="#121212" stroke-width="0.5">141</text>
<text transform="translate(367.91,785.00) scale(1.2318,1)" font-size="23.00" fill="#121212" stroke="#121212" stroke-width="0.5">126</text>
<text transform="translate(467.70,785.00) scale(1.1973,1)" font-size="23.00" fill="#121212" stroke="#121212" stroke-width="0.5">117</text>
<text transform="translate(565.66,785.00) scale(1.2146,1)" font-size="23.00" fill="#121212" stroke="#121212" stroke-width="0.5">105</text>
<text transform="translate(255.24,829.70) scale(1.2169,1)" font-size="18.00" fill="#121212" stroke="#121212" stroke-width="0.5">mw/cm2</text>
<text transform="translate(360.22,829.70) scale(1.2338,1)" font-size="18.00" fill="#121212" stroke="#121212" stroke-width="0.5">mw/cm2</text>
<text transform="translate(466.64,829.70) scale(1.2169,1)" font-size="18.00" fill="#121212" stroke="#121212" stroke-width="0.5">mw/cm2</text>
<text transform="translate(566.43,829.70) scale(1.2215,1)" font-size="18.00" fill="#121212" stroke="#121212" stroke-width="0.5">mw/cm2</text>
<text transform="translate(206.81,966.00) scale(0.8479,1)" font-size="14.50" fill="#1a0a0a" font-weight="bold" stroke="#1a0a0a" stroke-width="0.5">0 inch</text>
<text transform="translate(280.81,966.00) scale(0.8625,1)" font-size="14.50" fill="#1a0a0a" font-weight="bold" stroke="#1a0a0a" stroke-width="0.5">3 inch</text>
<text transform="translate(378.93,966.00) scale(0.8863,1)" font-size="14.50" fill="#1a0a0a" font-weight="bold" stroke="#1a0a0a" stroke-width="0.5">6 inch</text>
<text transform="translate(478.72,966.00) scale(0.8538,1)" font-size="14.50" fill="#1a0a0a" font-weight="bold" stroke="#1a0a0a" stroke-width="0.5">12 inch</text>
<text transform="translate(576.51,966.00) scale(0.8641,1)" font-size="14.50" fill="#1a0a0a" font-weight="bold" stroke="#1a0a0a" stroke-width="0.5">18 inch</text>
</svg>
</body></html>
